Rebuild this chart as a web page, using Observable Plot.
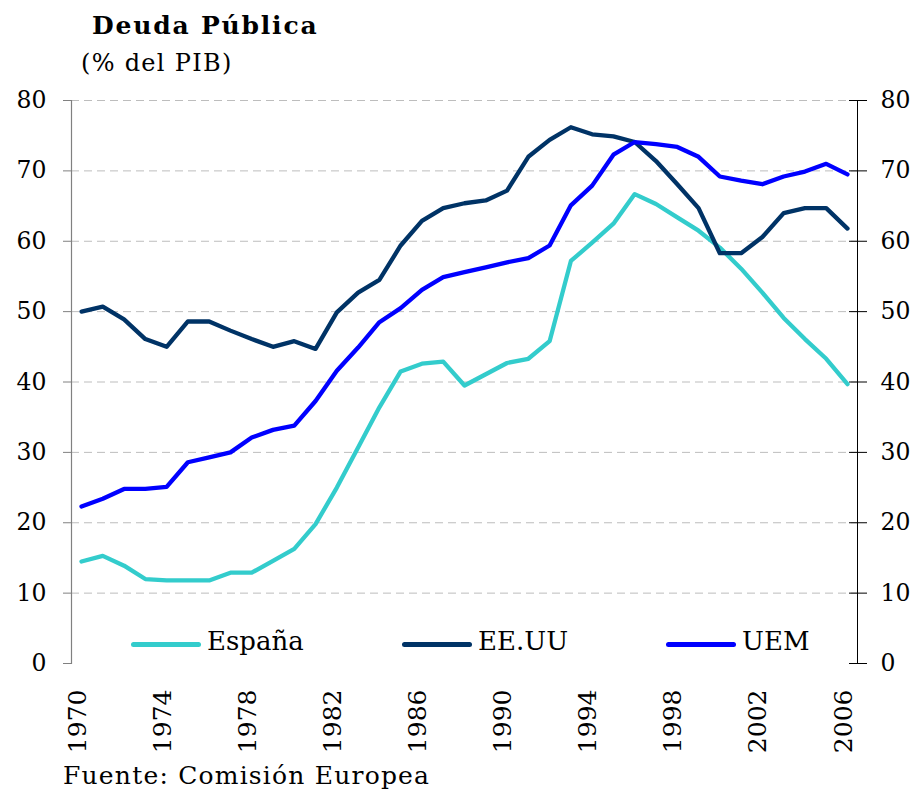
<!DOCTYPE html>
<html>
<head>
<meta charset="utf-8">
<script src="https://cdn.jsdelivr.net/npm/d3@7"></script>
<script src="https://cdn.jsdelivr.net/npm/@observablehq/plot@0.6"></script>
<style>
  html, body { margin: 0; padding: 0; background: #fff; }
  #wrap { position: relative; width: 919px; height: 789px; font-family: "DejaVu Serif", serif; color: #000; }
  #wrap svg { position: absolute; left: 0; top: 0; }
  .txt { position: absolute; white-space: nowrap; }
  #title { left: 92px; top: 11px; font-size: 25px; font-weight: bold; line-height: 30px; letter-spacing: 1.8px; }
  #subtitle { left: 81px; top: 49px; font-size: 24px; line-height: 28px; letter-spacing: 1.3px; }
  #caption { left: 63px; top: 761px; font-size: 25px; line-height: 30px; letter-spacing: 1.2px; }
  .leg { position: absolute; top: 626px; height: 30px; display: flex; align-items: flex-start; }
  .leg .sw { width: 70px; height: 5px; border-radius: 3px; margin-top: 16px; margin-right: 6px; }
  .leg .lab { font-size: 26px; line-height: 30px; }
</style>
</head>
<body>
<div id="wrap">
  <div id="chart"></div>
  <div class="txt" id="title">Deuda Pública</div>
  <div class="txt" id="subtitle">(% del PIB)</div>
  <div id="legend"></div>
  <div class="txt" id="caption">Fuente: Comisión Europea</div>
</div>
<script>
const years = [1970,1971,1972,1973,1974,1975,1976,1977,1978,1979,
               1980,1981,1982,1983,1984,1985,1986,1987,1988,1989,
               1990,1991,1992,1993,1994,1995,1996,1997,1998,1999,
               2000,2001,2002,2003,2004,2005,2006];
const espana = [14.5,15.3,13.9,12.0,11.8,11.8,11.8,12.9,12.9,14.6,
                16.3,19.8,25.0,30.7,36.4,41.5,42.6,42.9,39.5,41.1,
                42.7,43.3,45.8,57.2,59.8,62.5,66.7,65.3,63.4,61.5,
                59.1,56.1,52.7,49.1,46.1,43.3,39.7];
const eeuu = [50.0,50.7,48.9,46.1,45.0,48.6,48.6,47.3,46.1,45.0,
              45.8,44.7,49.9,52.7,54.5,59.4,62.9,64.7,65.4,65.8,
              67.2,72.0,74.4,76.2,75.2,74.9,74.1,71.4,68.1,64.7,
              58.3,58.3,60.6,64.0,64.7,64.7,61.8];
const uem = [22.3,23.4,24.8,24.8,25.1,28.6,29.3,30.0,32.1,33.2,
             33.8,37.3,41.6,44.9,48.5,50.5,53.1,54.9,55.6,56.3,
             57.0,57.6,59.4,65.1,67.9,72.3,74.1,73.8,73.4,72.0,
             69.2,68.6,68.1,69.2,69.9,71.0,69.5];
const seriesNames = ["España", "EE.UU", "UEM"];
const seriesColors = ["#33CCCC", "#003366", "#0000FF"];
const yTicks = [0,10,20,30,40,50,60,70,80];
const xTicks = [1970,1974,1978,1982,1986,1990,1994,1998,2002,2006];

const seriesValues = [espana, eeuu, uem];
const table = [];
seriesNames.forEach((name, i) => {
  years.forEach((yr, j) => table.push({serie: name, year: yr, value: seriesValues[i][j]}));
});

const chart = Plot.plot({
  width: 919,
  height: 789,
  marginTop: 100,
  marginBottom: 126,
  marginLeft: 71,
  marginRight: 62,
  style: { fontFamily: "DejaVu Serif", background: "transparent", color: "#000", overflow: "visible" },
  x: { domain: [1970, 2006], insetLeft: 10, insetRight: 10, axis: null },
  y: { domain: [0, 80], axis: null },
  color: { domain: seriesNames, range: seriesColors },
  marks: [
    Plot.gridY(yTicks.filter(d => d > 0), { stroke: "#bdbdbd", strokeOpacity: 1, strokeWidth: 1, strokeDasharray: "8,5" }),
    Plot.frame({ anchor: "left", stroke: "#808080", strokeWidth: 1.2 }),
    Plot.frame({ anchor: "right", stroke: "#000", strokeWidth: 1 }),
    Plot.axisY({ anchor: "left", ticks: yTicks, tickSize: 8, tickPadding: 17, stroke: "#808080", fill: "#000", fontSize: 23.5, label: null }),
    Plot.axisY({ anchor: "right", ticks: yTicks, tickSize: 18, dx: -9, tickPadding: 14, stroke: "#000", fill: "#000", fontSize: 23.5, label: null }),
    Plot.axisX({ ticks: xTicks, tickRotate: -90, tickSize: 0, tickPadding: 26, dx: -4, fontSize: 25, tickFormat: d => String(d), label: null }),
    Plot.line(table, { x: "year", y: "value", z: "serie", stroke: "serie", strokeWidth: 4.3, strokeLinejoin: "round", strokeLinecap: "round" })
  ]
});
document.getElementById("chart").appendChild(chart);

// legend
const legendLeft = [131, 402, 666];
const legend = document.getElementById("legend");
seriesNames.forEach((name, i) => {
  const item = document.createElement("div");
  item.className = "leg";
  item.style.left = legendLeft[i] + "px";
  item.innerHTML = `<div class="sw" style="background:${seriesColors[i]}"></div><div class="lab">${name}</div>`;
  legend.appendChild(item);
});
</script>
</body>
</html>
